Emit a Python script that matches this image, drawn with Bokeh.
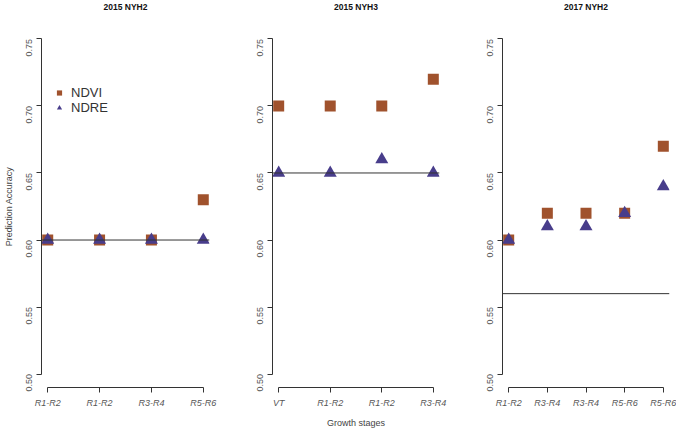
import math
from bokeh.plotting import figure
from bokeh.layouts import row
from bokeh.models import FixedTicker, Span, Legend, LegendItem, Range1d, Title
from bokeh.embed import file_html
from bokeh.resources import INLINE

titles = ["2015 NYH2", "2015 NYH3", "2017 NYH2"]
stages_1 = ["R1-R2", "R1-R2", "R3-R4", "R5-R6"]
stages_2 = ["VT", "R1-R2", "R1-R2", "R3-R4"]
stages_3 = ["R1-R2", "R3-R4", "R3-R4", "R5-R6", "R5-R6"]
ndvi_1 = [0.60, 0.60, 0.60, 0.63]
ndre_1 = [0.60, 0.60, 0.60, 0.60]
ndvi_2 = [0.70, 0.70, 0.70, 0.72]
ndre_2 = [0.65, 0.65, 0.66, 0.65]
ndvi_3 = [0.60, 0.62, 0.62, 0.62, 0.67]
ndre_3 = [0.60, 0.61, 0.61, 0.62, 0.64]
baselines = [0.60, 0.65, 0.56]
y_ticks = [0.50, 0.55, 0.60, 0.65, 0.70, 0.75]

NDVI_COLOR = "#A0522D"
NDRE_COLOR = "#483D8B"
AX = "#333333"
LAB = "#555555"
FONT = "Liberation Sans"
FH = 362


def make_panel(title, stages, ndvi, ndre, base, left, fw, right, ylabel=None, xlabel=None, legend=False):
    n = len(stages)
    xs = list(range(1, n + 1))
    pad = 0.04 * (n - 1)
    p = figure(frame_width=fw, frame_height=FH,
               min_border_left=left, min_border_right=right,
               min_border_top=25, min_border_bottom=41,
               x_range=Range1d(1 - pad, n + pad), y_range=Range1d(0.49, 0.76),
               output_backend="svg", toolbar_location=None)
    p.outline_line_color = None
    p.grid.visible = False
    p.background_fill_color = "white"

    # spacer between frame and title, then the real title at the very top
    p.add_layout(Title(text=" ", text_font=FONT, text_font_size="8.5px", standoff=0), "above")
    p.add_layout(Title(text=title, align="center", vertical_align="top", standoff=0,
                       text_font=FONT, text_font_size="8.5px", text_font_style="bold",
                       text_color="#111111"), "above")

    xa = p.xaxis[0]
    xa.ticker = FixedTicker(ticks=xs)
    xa.major_label_overrides = {x: s for x, s in zip(xs, stages)}
    xa.bounds = (1, n)
    xa.axis_line_color = AX
    xa.major_tick_line_color = AX
    xa.major_tick_out = 5
    xa.major_tick_in = 0
    xa.minor_tick_line_color = None
    xa.major_label_text_font = FONT
    xa.major_label_text_font_size = "9px"
    xa.major_label_text_font_style = "italic"
    xa.major_label_text_color = LAB
    xa.major_label_standoff = 5
    if xlabel:
        xa.axis_label = xlabel
        xa.axis_label_text_font = FONT
        xa.axis_label_text_font_size = "9px"
        xa.axis_label_text_font_style = "normal"
        xa.axis_label_text_color = "#444444"
        xa.axis_label_standoff = 7

    ya = p.yaxis[0]
    ya.ticker = FixedTicker(ticks=y_ticks)
    ya.major_label_overrides = {t: "%.2f" % t for t in y_ticks}
    ya.bounds = (0.5, 0.75)
    ya.axis_line_color = AX
    ya.major_tick_line_color = AX
    ya.major_tick_out = 5
    ya.major_tick_in = 0
    ya.minor_tick_line_color = None
    ya.major_label_orientation = math.pi / 2
    ya.major_label_text_font = FONT
    ya.major_label_text_font_size = "9px"
    ya.major_label_text_color = LAB
    ya.major_label_standoff = 7
    if ylabel:
        ya.axis_label = ylabel
        ya.axis_label_text_font = FONT
        ya.axis_label_text_font_size = "9px"
        ya.axis_label_text_font_style = "normal"
        ya.axis_label_text_color = "#444444"
        ya.axis_label_standoff = 7

    p.add_layout(Span(location=base, dimension="width", line_color=AX, line_width=1))

    r1 = p.scatter(xs, ndvi, marker="square", size=11, fill_color=NDVI_COLOR, line_color=NDVI_COLOR, line_width=0)
    r2 = p.scatter(xs, ndre, marker="triangle", size=13, fill_color=NDRE_COLOR, line_color=NDRE_COLOR, line_width=0)

    if legend:
        lg = Legend(items=[LegendItem(label="NDVI", renderers=[r1]), LegendItem(label="NDRE", renderers=[r2])],
                    location=(11, 272), orientation="vertical",
                    glyph_width=14, glyph_height=13, label_height=13, spacing=0,
                    padding=0, margin=0, label_standoff=5,
                    label_text_font=FONT, label_text_font_size="13px", label_text_color="#333333",
                    border_line_alpha=0, background_fill_alpha=0)
        p.add_layout(lg, "center")
    return p


p1 = make_panel(titles[0], stages_1, ndvi_1, ndre_1, baselines[0], 40, 168, 30, ylabel="Prediction Accuracy", legend=True)
p2 = make_panel(titles[1], stages_2, ndvi_2, ndre_2, baselines[1], 33, 167, 30, xlabel="Growth stages")
p3 = make_panel(titles[2], stages_3, ndvi_3, ndre_3, baselines[2], 33, 167, 8)

layout = row(p1, p2, p3)
open("out.html", "w").write(file_html(layout, INLINE))
